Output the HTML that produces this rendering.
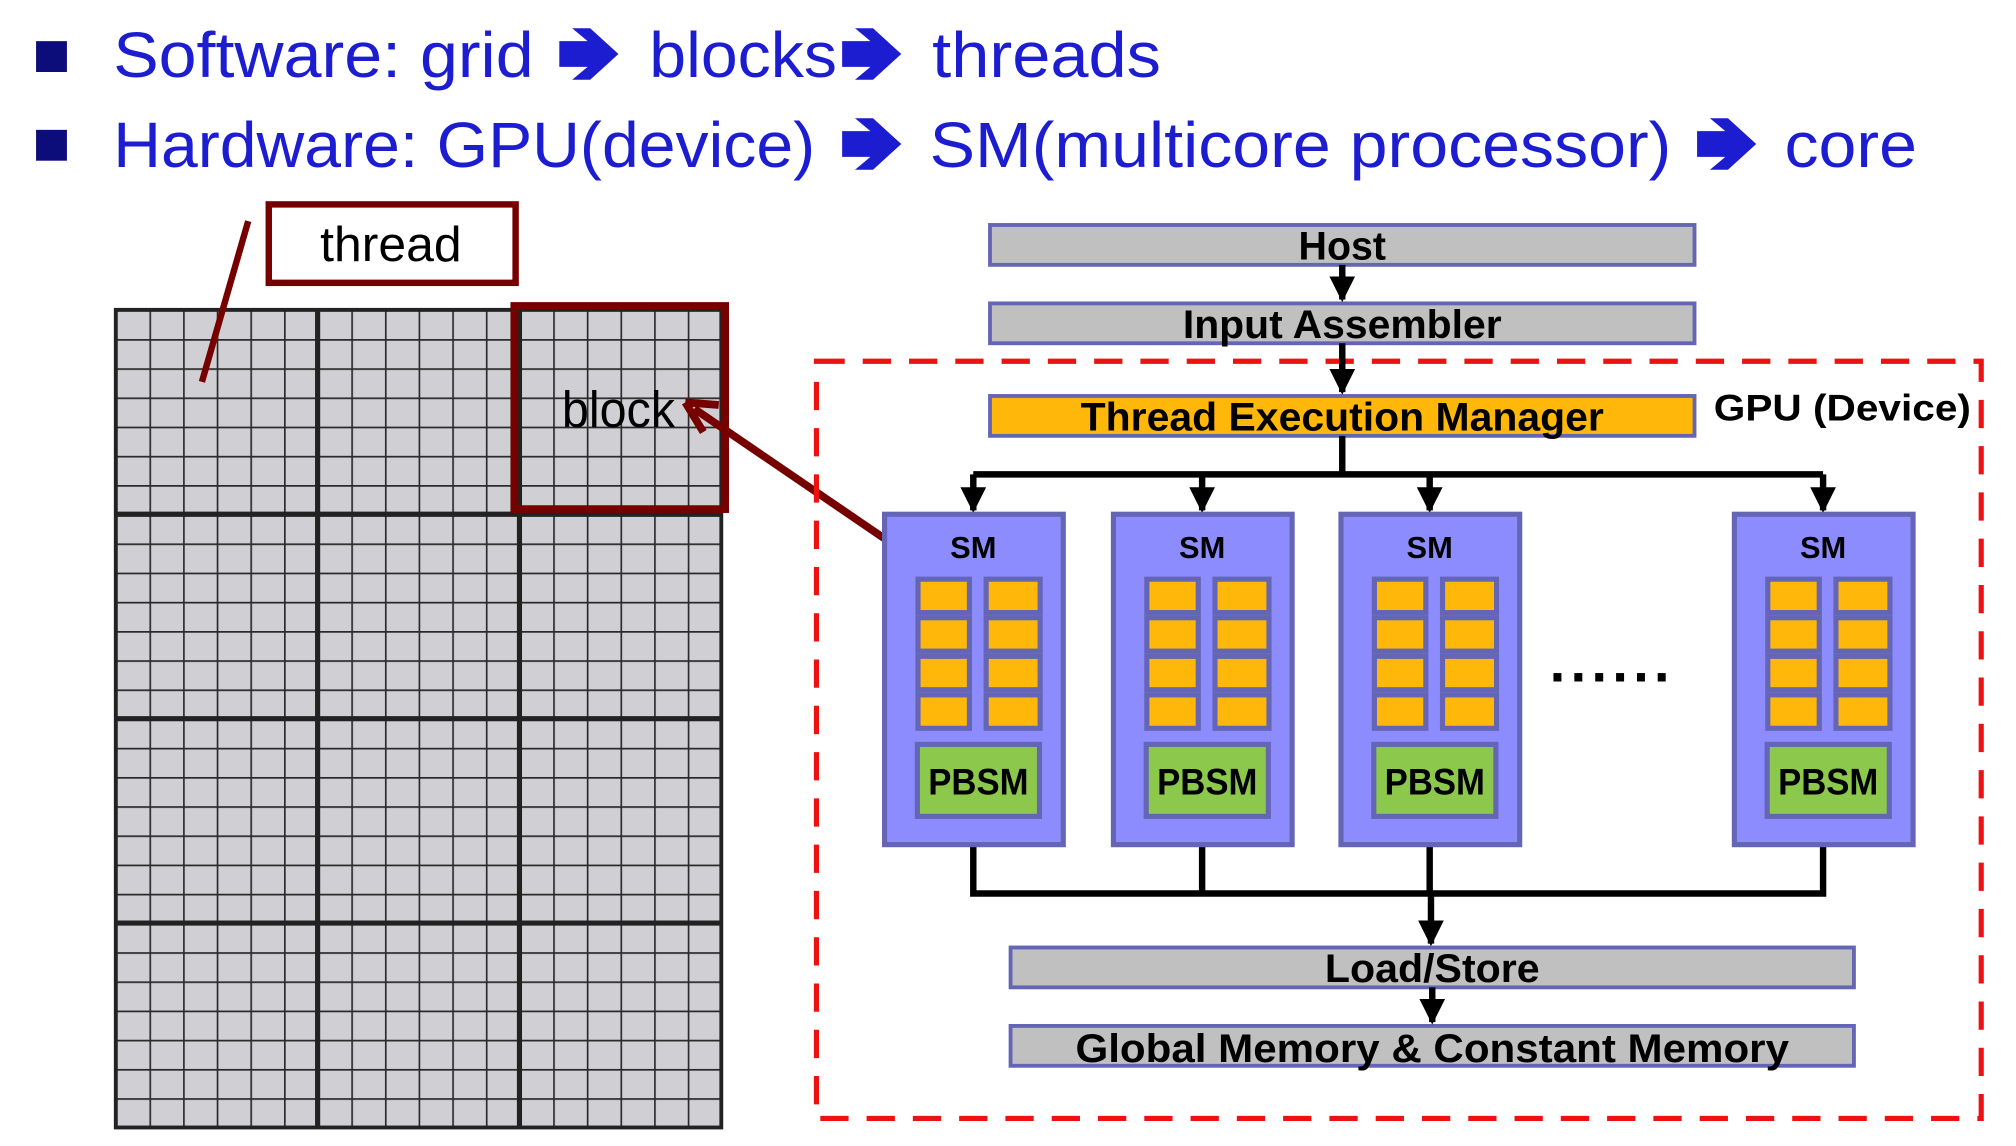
<!DOCTYPE html>
<html><head><meta charset="utf-8"><style>html,body{margin:0;padding:0;background:#fff}svg{display:block}</style></head>
<body>
<svg width="2016" height="1146" viewBox="0 0 1568 891.4" xmlns="http://www.w3.org/2000/svg" font-family="Liberation Sans, DejaVu Sans, sans-serif">
<defs>
<pattern id="g" x="90" y="241" width="26.17" height="22.71" patternUnits="userSpaceOnUse">
<rect width="26.17" height="22.71" fill="#d0d0d4"/>
<path d="M0 0H26.17M0 0V22.71" stroke="#2a2a2a" stroke-width="2.6" fill="none"/>
</pattern>
<marker id="ah" viewBox="0 0 10 10" refX="9" refY="5" markerWidth="4" markerHeight="4" orient="auto"><path d="M0 0L10 5L0 10z" fill="#000"/></marker>
</defs>
<!-- header -->
<rect x="28" y="32" width="24" height="24" fill="#0c0c7a"/>
<rect x="28" y="101" width="24" height="24" fill="#0c0c7a"/>
<g fill="#1c1cd0" font-size="50">
<text x="88" y="60" textLength="327" lengthAdjust="spacingAndGlyphs">Software: grid</text>
<text x="505" y="60" textLength="146" lengthAdjust="spacingAndGlyphs">blocks</text>
<text x="725" y="60" textLength="178" lengthAdjust="spacingAndGlyphs">threads</text>
<text x="88" y="130" textLength="546" lengthAdjust="spacingAndGlyphs">Hardware: GPU(device)</text>
<text x="723" y="130" textLength="577" lengthAdjust="spacingAndGlyphs">SM(multicore processor)</text>
<text x="1388" y="130" textLength="103" lengthAdjust="spacingAndGlyphs">core</text>
</g>
<g fill="#1c1cd0">
<path d="M435 32h22l-12-10h14l22 20l-22 20h-14l12-10h-22z"/>
<path d="M655 32h22l-12-10h14l22 20l-22 20h-14l12-10h-22z"/>
<path d="M655 102h22l-12-10h14l22 20l-22 20h-14l12-10h-22z"/>
<path d="M1320 102h22l-12-10h14l22 20l-22 20h-14l12-10h-22z"/>
</g>
<!-- grid -->
<rect x="90" y="241" width="471" height="636" fill="url(#g)" stroke="#222" stroke-width="3"/>
<g stroke="#222" stroke-width="4">
<line x1="247" y1="241" x2="247" y2="877"/><line x1="404" y1="241" x2="404" y2="877"/>
<line x1="90" y1="400" x2="561" y2="400"/><line x1="90" y1="559" x2="561" y2="559"/><line x1="90" y1="718" x2="561" y2="718"/>
</g>
<rect x="400" y="238" width="164" height="158" fill="none" stroke="#760000" stroke-width="6"/>
<rect x="209" y="159" width="192" height="61" fill="#fff" stroke="#760000" stroke-width="5"/>
<text x="304" y="203" font-size="38" text-anchor="middle" fill="#000" textLength="110" lengthAdjust="spacingAndGlyphs">thread</text>
<text x="481" y="332" font-size="40" text-anchor="middle" fill="#000" textLength="88" lengthAdjust="spacingAndGlyphs">block</text>
<line x1="193" y1="172" x2="157" y2="297" stroke="#760000" stroke-width="5"/>
<line x1="713" y1="436" x2="540" y2="318" stroke="#760000" stroke-width="6"/>
<path d="M533 313l26 2M533 313l14 23" stroke="#760000" stroke-width="6" fill="none"/>
<!-- GPU -->
<rect x="635" y="281" width="906" height="589" fill="none" stroke="#ee1111" stroke-width="4" stroke-dasharray="22 14"/>
<g font-weight="bold" fill="#000">
<rect x="770" y="175" width="548" height="31" fill="#c0c0c0" stroke="#6565b5" stroke-width="3"/>
<text x="1044" y="202" font-size="31" text-anchor="middle" textLength="68" lengthAdjust="spacingAndGlyphs">Host</text>
<rect x="770" y="236" width="548" height="31" fill="#c0c0c0" stroke="#6565b5" stroke-width="3"/>
<text x="1044" y="263" font-size="31" text-anchor="middle" textLength="248" lengthAdjust="spacingAndGlyphs">Input Assembler</text>
<rect x="770" y="308" width="548" height="31" fill="#ffb80a" stroke="#6565b5" stroke-width="3"/>
<text x="1044" y="335" font-size="31" text-anchor="middle" textLength="407" lengthAdjust="spacingAndGlyphs">Thread Execution Manager</text>
<text x="1433" y="327" font-size="29" text-anchor="middle" textLength="200" lengthAdjust="spacingAndGlyphs">GPU (Device)</text>
<rect x="786" y="737" width="656" height="31" fill="#c0c0c0" stroke="#6565b5" stroke-width="3"/>
<text x="1114" y="764" font-size="31" text-anchor="middle" textLength="167" lengthAdjust="spacingAndGlyphs">Load/Store</text>
<rect x="786" y="798" width="656" height="31" fill="#c0c0c0" stroke="#6565b5" stroke-width="3"/>
<text x="1114" y="826" font-size="31" text-anchor="middle" textLength="555" lengthAdjust="spacingAndGlyphs">Global Memory &amp; Constant Memory</text>
</g>
<g stroke="#000" stroke-width="5" fill="none">
<line x1="1044" y1="206" x2="1044" y2="233" marker-end="url(#ah)"/>
<line x1="1044" y1="267" x2="1044" y2="305" marker-end="url(#ah)"/>
<line x1="1044" y1="339" x2="1044" y2="369"/>
<line x1="757" y1="369" x2="1418" y2="369"/>
<line x1="757" y1="369" x2="757" y2="397" marker-end="url(#ah)"/>
<line x1="935" y1="369" x2="935" y2="397" marker-end="url(#ah)"/>
<line x1="1112" y1="369" x2="1112" y2="397" marker-end="url(#ah)"/>
<line x1="1418" y1="369" x2="1418" y2="397" marker-end="url(#ah)"/>
<path d="M757 658V695H1418V658M935 658V695M1112 658V695"/>
<line x1="1113" y1="695" x2="1113" y2="734" marker-end="url(#ah)"/>
<line x1="1114" y1="768" x2="1114" y2="795" marker-end="url(#ah)"/>
</g>
<g id="sm">
<rect x="688" y="400" width="139" height="257" fill="#8c8cff" stroke="#6565b5" stroke-width="4"/>
<text x="757" y="434" font-size="24" font-weight="bold" text-anchor="middle">SM</text>
<g fill="#ffb80a" stroke="#6565b5" stroke-width="4">
<rect x="714" y="450.5" width="40" height="26"/><rect x="767" y="450.5" width="42" height="26"/>
<rect x="714" y="480.5" width="40" height="26"/><rect x="767" y="480.5" width="42" height="26"/>
<rect x="714" y="510.5" width="40" height="26"/><rect x="767" y="510.5" width="42" height="26"/>
<rect x="714" y="540.5" width="40" height="26"/><rect x="767" y="540.5" width="42" height="26"/>
</g>
<rect x="713.5" y="579" width="95" height="56" fill="#8bc84b" stroke="#6565b5" stroke-width="4"/>
<text x="761" y="618" font-size="29" font-weight="bold" text-anchor="middle" textLength="78" lengthAdjust="spacingAndGlyphs">PBSM</text>
</g>
<use href="#sm" x="178"/>
<use href="#sm" x="355"/>
<use href="#sm" x="661"/>
<text x="1254" y="530" font-size="44" font-weight="bold" text-anchor="middle" letter-spacing="4">......</text>
</svg>
</body></html>
